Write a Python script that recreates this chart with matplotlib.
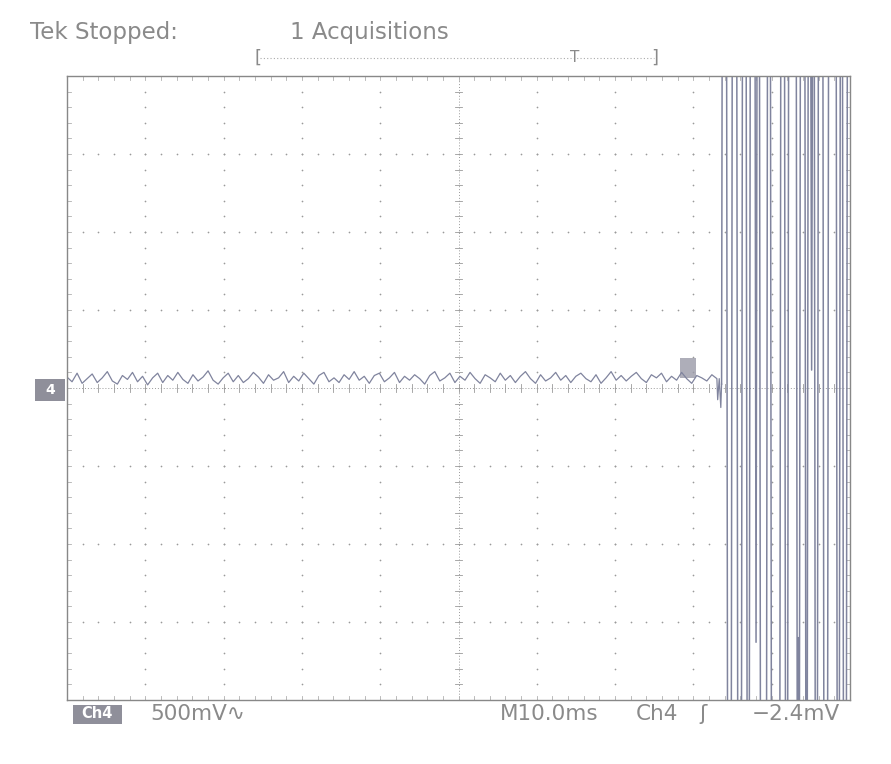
import numpy as np
import matplotlib.pyplot as plt
from matplotlib.patches import Rectangle
from matplotlib.lines import Line2D

# screen: 10 x 8 divisions, values in divisions
n_xdiv, n_ydiv = 10, 8

# flat noisy part of the Ch4 trace (div), samples evenly spaced 0 .. 8.30 div
noise_v = [
    0.14, 0.08, 0.19, 0.06, 0.12, 0.18, 0.07, 0.13, 0.21, 0.09,
    0.05, 0.16, 0.11, 0.20, 0.08, 0.15, 0.04, 0.13, 0.19, 0.07,
    0.16, 0.10, 0.20, 0.11, 0.06, 0.17, 0.09, 0.14, 0.22, 0.10,
    0.05, 0.13, 0.19, 0.08, 0.16, 0.07, 0.12, 0.20, 0.14, 0.06,
    0.17, 0.10, 0.13, 0.21, 0.07, 0.15, 0.09, 0.19, 0.12, 0.05,
    0.16, 0.20, 0.08, 0.13, 0.07, 0.17, 0.11, 0.21, 0.10, 0.15,
    0.06, 0.16, 0.19, 0.08, 0.13, 0.20, 0.07, 0.15, 0.10, 0.17,
    0.12, 0.05, 0.16, 0.21, 0.09, 0.13, 0.19, 0.07, 0.15, 0.10,
    0.20, 0.12, 0.06, 0.17, 0.13, 0.08, 0.19, 0.10, 0.16, 0.07,
    0.15, 0.21, 0.12, 0.06, 0.17, 0.09, 0.13, 0.20, 0.10, 0.16,
    0.07, 0.15, 0.19, 0.12, 0.08, 0.17, 0.06, 0.13, 0.21, 0.10,
    0.16, 0.09, 0.15, 0.20, 0.12, 0.07, 0.17, 0.13, 0.19, 0.08,
    0.15, 0.10, 0.20, 0.12, 0.06, 0.16, 0.13, 0.09, 0.17, 0.12,
]
noise_end = 8.30

# small dips just before the burst
pre_t = [8.31, 8.33, 8.35, 8.36]
pre_v = [-0.15, 0.12, -0.25, 0.05]

# burst: signal swings far off screen; times of each edge (div)
rail = 6.0
first_edge = 8.37
edge_t = [8.43, 8.49, 8.56, 8.62, 8.68, 8.72, 8.85, 8.94, 8.99, 9.11, 9.17, 9.21,
          9.32, 9.36, 9.43, 9.46, 9.55, 9.59, 9.66, 9.72, 9.83, 9.87, 9.91, 9.96]
# partial swings that turn back on screen: (time, turning value)
partial = [(8.80, -3.26), (9.34, -3.20), (9.51, 0.23)]

trace_c = "#80849e"
grid_c = "#9a9a9a"
text_c = "#8a8a8a"

# build burst points
bt, bv = [pre_t[-1]], [pre_v[-1]]
bt.append(first_edge)
bv.append(rail)
level = rail
events = sorted([(t, "edge", None) for t in edge_t] + [(t, "part", v) for t, v in partial])
for t, kind, v in events:
    if kind == "edge":
        bt += [t - 0.008, t + 0.008]
        bv += [level, -level]
        level = -level
    else:
        bt += [t - 0.015, t, t + 0.015]
        bv += [level, v, level]
bt.append(10.0)
bv.append(level)

fig = plt.figure(figsize=(8.91, 7.64), dpi=100)
ax = fig.add_axes([67 / 891, 1 - 700 / 764, 783 / 891, 624 / 764])
ax.set_xlim(0, n_xdiv)
ax.set_ylim(-n_ydiv / 2, n_ydiv / 2)
ax.set_xticks([])
ax.set_yticks([])
for s in ax.spines.values():
    s.set_color("#888888")
    s.set_linewidth(1.0)

# dotted graticule: dots every 0.2 div on each division line
minor_x = np.arange(0, n_xdiv + 0.001, 0.2)
minor_y = np.arange(-n_ydiv / 2, n_ydiv / 2 + 0.001, 0.2)
for gx in range(1, n_xdiv):
    if gx == 5:
        continue
    ax.scatter(np.full_like(minor_y, gx), minor_y, s=1.5, color=grid_c, lw=0)
for gy in range(-3, 4):
    if gy == 0:
        continue
    ax.scatter(minor_x, np.full_like(minor_x, gy), s=1.5, color=grid_c, lw=0)

# center cross with minor ticks
ax.plot([5, 5], [-4, 4], color=grid_c, lw=0.7, ls=(0, (1, 2)))
ax.plot([0, 10], [0, 0], color=grid_c, lw=0.7, ls=(0, (1, 2)))
for y in minor_y:
    ax.plot([4.95, 5.05], [y, y], color=grid_c, lw=0.6)
for x in minor_x:
    ax.plot([x, x], [-0.05, 0.05], color=grid_c, lw=0.6)
# edge ticks
for x in minor_x:
    ax.plot([x, x], [3.95, 4], color="#b0b0b0", lw=0.6)
    ax.plot([x, x], [-4, -3.95], color="#b0b0b0", lw=0.6)
for y in minor_y:
    ax.plot([0, 0.05], [y, y], color="#b0b0b0", lw=0.6)
    ax.plot([9.95, 10], [y, y], color="#b0b0b0", lw=0.6)

# trace
t_noise = np.linspace(0, noise_end, len(noise_v))
ax.plot(list(t_noise) + pre_t, noise_v + pre_v, color=trace_c, lw=0.9)
ax.plot(bt, bv, color=trace_c, lw=1.1)

# small marker box near end of flat trace
ax.add_patch(Rectangle((7.83, 0.13), 0.2, 0.25, facecolor="#9a9aa8", edgecolor="none", alpha=0.8))

# channel marker on left
fig.patches.append(Rectangle((35 / 891, 1 - 401 / 764), 30 / 891, 22 / 764,
                             transform=fig.transFigure, facecolor="#8f8f9a", edgecolor="none"))
fig.text(50 / 891, 1 - 390 / 764, "4", color="white", fontsize=10, ha="center", va="center",
         fontweight="bold")

# header
fig.text(30 / 891, 1 - 33 / 764, "Tek Stopped:", color=text_c, fontsize=16.5, ha="left", va="center")
fig.text(290 / 891, 1 - 33 / 764, "1 Acquisitions", color=text_c, fontsize=16.5, ha="left", va="center")
# record bar
yb = 1 - 58 / 764
fig.lines.append(Line2D([260 / 891, 654 / 891], [yb, yb], transform=fig.transFigure,
                        color="#aaaaaa", lw=0.8, ls=(0, (1, 2))))
fig.text(258 / 891, yb, "[", color=text_c, fontsize=13, ha="center", va="center")
fig.text(655 / 891, yb, "]", color=text_c, fontsize=13, ha="center", va="center")
fig.text(575 / 891, yb, "T", color=text_c, fontsize=11, ha="center", va="center")

# footer
fy = 1 - 714 / 764
fig.patches.append(Rectangle((73 / 891, 1 - 724 / 764), 49 / 891, 19 / 764,
                             transform=fig.transFigure, facecolor="#8f8f9a", edgecolor="none"))
fig.text(97 / 891, fy, "Ch4", color="white", fontsize=10.5, ha="center", va="center",
         fontweight="bold")
fig.text(150 / 891, fy, "500mV\u223f", color=text_c, fontsize=15.5, ha="left", va="center")
fig.text(500 / 891, fy, "M10.0ms", color=text_c, fontsize=15.5, ha="left", va="center")
fig.text(636 / 891, fy, "Ch4", color=text_c, fontsize=15.5, ha="left", va="center")
fig.text(703 / 891, fy, "\u0283", color=text_c, fontsize=15.5, ha="center", va="center")
fig.text(840 / 891, fy, "\u22122.4mV", color=text_c, fontsize=15.5, ha="right", va="center")

fig.savefig("out.png", dpi=100, facecolor="white")
plt.close(fig)
